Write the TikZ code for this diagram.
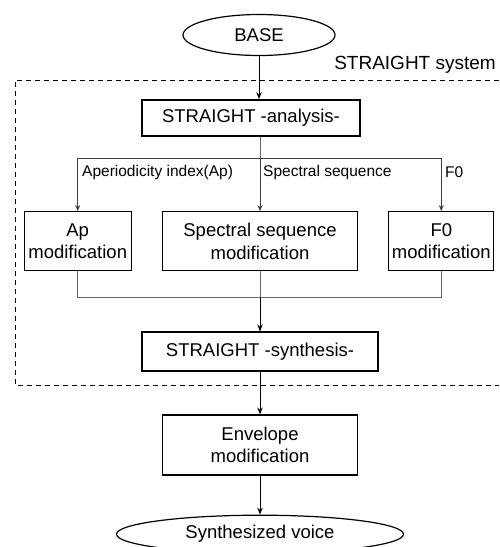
\documentclass[tikz,border=0pt]{standalone}
\usepackage{fontspec}
\setmainfont{Liberation Sans}
\usetikzlibrary{shapes.geometric,arrows.meta,positioning}
\tikzstyle{arrow} = [line width=1pt,-{Stealth[length=7pt,width=5.5pt]}]
\tikzstyle{thinarrow} = [line width=0.7pt,black!75,-{Stealth[length=6pt,width=5pt]}]
\tikzstyle{branch} = [line width=0.7pt,black!60]
\tikzstyle{box} = [draw, line width=1.3pt, minimum height=59pt]
\tikzstyle{oval} = [draw, ellipse, line width=1.2pt]
\tikzstyle{flowlabel} = [anchor=west, font=\fontsize{15.5}{18}\selectfont]

\begin{document}
\begin{tikzpicture}[x=1pt, y=-1pt, every node/.style={font=\fontsize{18.5}{22.5}\selectfont, align=center, inner sep=0pt}]
    \useasboundingbox (0,0) rectangle (499,547);
    % system frame
    \draw[dashed, dash pattern=on 5pt off 4pt, line width=0.8pt] (499,80) -- (15,80) -- (15,385) -- (499,385);
    \node (sysname) [anchor=east, font=\fontsize{19}{22}\selectfont] at (496,65) {STRAIGHT system};

    % input and analysis
    \node (base) [oval, minimum width=152pt, minimum height=41pt] at (259,35) {BASE};
    \node (ana) [draw, line width=2pt, minimum width=218pt, minimum height=36pt, below=43pt of base, xshift=-8pt] {STRAIGHT -analysis-};

    % modification boxes
    \node (specmod) [box, minimum width=195pt, below=74pt of ana, xshift=9pt] {Spectral sequence\\modification};
    \node (apmod) [box, minimum width=107pt, left=30pt of specmod] {Ap\\modification};
    \node (f0mod) [box, minimum width=105pt, right=30pt of specmod] {F0\\modification};

    % synthesis and output
    \node (synth) [draw, line width=2pt, minimum width=236pt, minimum height=39pt, below=60pt of specmod] {STRAIGHT -synthesis-};
    \node (env) [draw, line width=1.2pt, minimum width=195pt, minimum height=60pt, below=42pt of synth] {Envelope\\modification};
    \node (voice) [oval, minimum width=287pt, minimum height=38pt, below=39pt of env] {Synthesized voice};

    % branch points
    \coordinate (split) at (260,158);
    \coordinate (join) at (260,297);

    % labels on the branches
    \node (aplabel) [flowlabel] at (82,172) {Aperiodicity index(Ap)};
    \node (speclabel) [flowlabel] at (263,172) {Spectral sequence};
    \node (f0label) [flowlabel] at (445,172) {F0};

    % connections
    \draw[arrow] (base) -- (base |- ana.north);
    \draw[branch] (split |- ana.south) -- (split);
    \draw[thinarrow] (split) -| (apmod);
    \draw[thinarrow] (split) -- (specmod);
    \draw[thinarrow] (split) -| (f0mod);

    \draw[branch] (apmod) |- (join);
    \draw[branch] (f0mod) |- (join);
    \draw[branch] (specmod) -- (join);
    \draw[arrow] (join) -- (synth);

    \draw[arrow] (synth) -- (env);
    \draw[arrow] (env) -- (voice);
\end{tikzpicture}
\end{document}
